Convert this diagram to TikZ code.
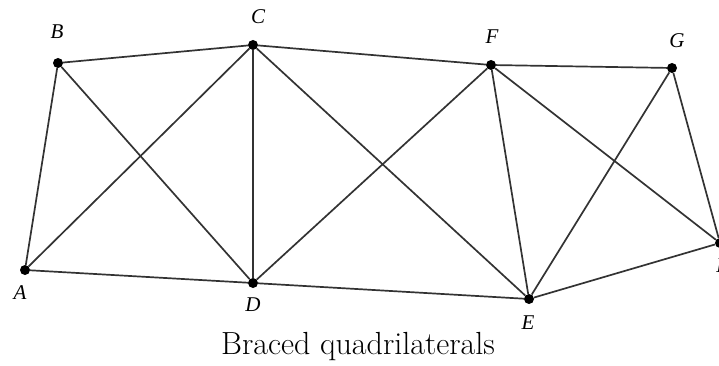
\documentclass[tikz,border=0pt]{standalone}
\usepackage{fontspec}
\newfontfamily\lblfont{Liberation Serif}
\usetikzlibrary{positioning}
\definecolor{edgec}{HTML}{333333}

\begin{document}
\begin{tikzpicture}[
  x=1pt, y=-1pt,
  pt/.style     = {circle, fill=black, inner sep=0pt, minimum size=10pt},
  lbl/.style    = {font=\lblfont\itshape\fontsize{21}{21}\selectfont, inner sep=1pt},
  edge/.style   = {draw=edgec, line width=1.7pt},
  caption/.style = {font=\fontsize{32}{36}\selectfont, inner sep=0pt},
]
\useasboundingbox (0,0) rectangle (719,366);

% -- vertices -----------------------------------------------------------
\node[pt] (A) at (25,270) {};
\node[pt] (B) at (58,63) {};
\node[pt] (C) at (253,45) {};
\node[pt] (D) at (253,283) {};
\node[pt] (E) at (529,299) {};
\node[pt] (F) at (491,65) {};
\node[pt] (G) at (672,68) {};
\node[pt] (H) at (720,243) {};

% -- labels -------------------------------------------------------------
\node[lbl] (lA) at (20,293) {A};
\node[lbl] (lB) at (57,32) {B};
\node[lbl] (lC) at (258,17) {C};
\node[lbl] (lD) at (253,305) {D};
\node[lbl] (lE) at (528,323) {E};
\node[lbl] (lF) at (492,37) {F};
\node[lbl] (lG) at (677,41) {G};
\node[lbl] (lH) at (724,266) {H};

% -- bars ---------------------------------------------------------------
\draw[edge] (A) -- (B) -- (C) -- (F) -- (G) -- (H) -- (E) -- (D) -- (A);
\draw[edge] (A) -- (C);
\draw[edge] (B) -- (D);
\draw[edge] (C) -- (D);
\draw[edge] (C) -- (E);
\draw[edge] (D) -- (F);
\draw[edge] (F) -- (E);
\draw[edge] (F) -- (H);
\draw[edge] (G) -- (E);

\node[caption] (cap) at (358,347) {Braced quadrilaterals};
\end{tikzpicture}
\end{document}
